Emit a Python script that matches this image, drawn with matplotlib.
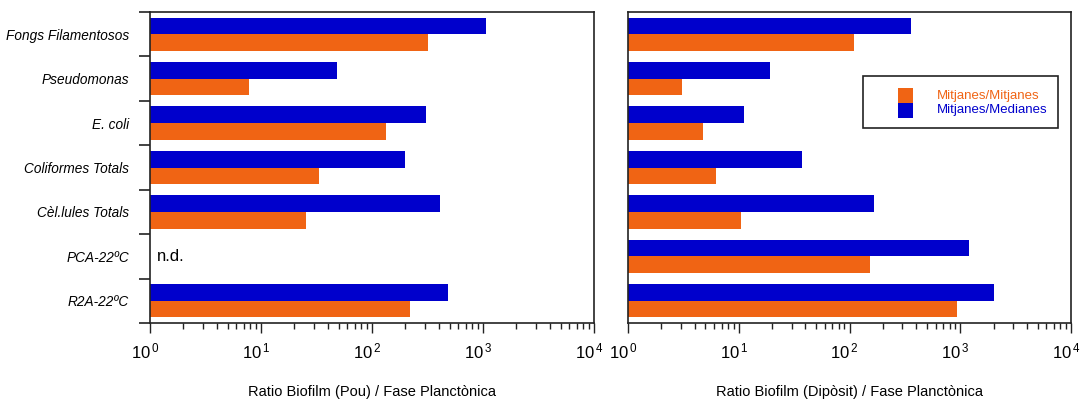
import numpy as np
import matplotlib
matplotlib.use("Agg")
import matplotlib.pyplot as plt
import matplotlib.transforms as mtransforms
from matplotlib.ticker import FixedLocator, LogLocator, NullFormatter
from matplotlib.patches import Rectangle

FONT = "Liberation Sans"
plt.rcParams['font.family'] = [FONT, 'DejaVu Sans']
plt.rcParams['mathtext.fontset'] = 'custom'
plt.rcParams['mathtext.rm'] = FONT
plt.rcParams['mathtext.default'] = 'regular'

categories = ["Fongs Filamentosos", "Pseudomonas", "E. coli", "Coliformes Totals",
              "Cèl.lules Totals", "PCA-22ºC", "R2A-22ºC"]
# Left panel: Ratio Biofilm (Pou) / Fase Planctònica
pou_medianes = [1060, 48, 305, 200, 410, np.nan, 480]
pou_mitjanes = [318, 7.8, 133, 33.5, 25.5, np.nan, 222]
# Right panel: Ratio Biofilm (Dipòsit) / Fase Planctònica
dip_medianes = [356, 19.1, 11.1, 37, 166, 1200, 2020]
dip_mitjanes = [109, 3.1, 4.8, 6.2, 10.4, 153, 935]

series_labels = ["Mitjanes/Mitjanes", "Mitjanes/Medianes"]
xlabels = ["Ratio Biofilm (Pou) / Fase Planctònica",
           "Ratio Biofilm (Dipòsit) / Fase Planctònica"]
xtick_vals = [1, 10, 100, 1000, 10000]
xtick_labels = [r"$10^{\,0}$", r"$10^{\,1}$", r"$10^{\,2}$", r"$10^{\,3}$", r"$10^{\,4}$"]

BLUE = "#0000CC"
ORANGE = "#F06414"
SPINE = "#222222"

fig = plt.figure(figsize=(10.8, 4.01), dpi=100)
axL = fig.add_axes([150/1080, 78/401, 444/1080, 311/401])
axR = fig.add_axes([628/1080, 78/401, 443/1080, 311/401])

h = 0.375
y = np.arange(len(categories))
shift = mtransforms.ScaledTranslation(-5/100, 0, fig.dpi_scale_trans)

def draw(ax, med, mit, xlabel, ylabels=True):
    med = np.asarray(med, float)
    mit = np.asarray(mit, float)
    ax.barh(y - h/2, med - 1, left=1, height=h, color=BLUE, linewidth=0)
    ax.barh(y + h/2, mit - 1, left=1, height=h, color=ORANGE, linewidth=0)
    ax.set_xscale('log')
    ax.set_xlim(1, 10000)
    ax.set_ylim(len(categories) - 0.5, -0.5)
    ax.xaxis.set_major_locator(FixedLocator(xtick_vals))
    ax.set_xticklabels(xtick_labels, fontsize=12)
    ax.xaxis.set_minor_locator(LogLocator(base=10, subs=np.arange(2, 10)))
    ax.xaxis.set_minor_formatter(NullFormatter())
    ax.tick_params(axis='x', which='major', direction='out', length=7.5, width=1, color=SPINE, pad=6)
    ax.tick_params(axis='x', which='minor', direction='out', length=4, width=1, color=SPINE)
    ax.set_xlabel(xlabel, fontsize=10.5, va='center')
    ax.xaxis.set_label_coords(0.5, (323 - 392) / 311)
    for s in ax.spines.values():
        s.set_color(SPINE)
        s.set_linewidth(1.2)
    if ylabels:
        ax.set_yticks(y)
        ax.set_yticklabels(categories, fontsize=9.8, style='italic')
        ax.tick_params(axis='y', which='major', length=0, pad=15)
        ax.yaxis.set_minor_locator(FixedLocator(np.arange(-0.5, len(categories) + 0.5, 1)))
        ax.tick_params(axis='y', which='minor', direction='out', length=8, width=1.2, color=SPINE)
    else:
        ax.set_yticks([])
    # shift the decade labels slightly left, as in the reference
    for tick in ax.xaxis.get_major_ticks():
        tick.label1.set_transform(tick.label1.get_transform() + shift)

draw(axL, pou_medianes, pou_mitjanes, xlabels[0], True)
draw(axR, dip_medianes, dip_mitjanes, xlabels[1], False)

axL.text(1.156, 5, "n.d.", fontsize=12, va='center', ha='left')

# Legend drawn in axes-fraction coordinates of the right panel
def fx(px):
    return (px - 628) / 443
def fy(py):
    return (323 - py) / 311

tr = axR.transAxes
axR.add_patch(Rectangle((fx(863), fy(128)), fx(1058) - fx(863), fy(76) - fy(128),
                        transform=tr, facecolor='white', edgecolor=SPINE, linewidth=1.2, zorder=5))
for i, (lab, col) in enumerate(zip(series_labels, [ORANGE, BLUE])):
    top = 88 + 15 * i
    axR.add_patch(Rectangle((fx(898), fy(top + 15)), fx(913) - fx(898), fy(top) - fy(top + 15),
                            transform=tr, facecolor=col, edgecolor='none', zorder=6))
    axR.text(fx(937), fy(top + 7.5), lab, transform=tr, color=col, fontsize=9.5,
             va='center', ha='left', zorder=7)

fig.savefig("out.png", dpi=100)
